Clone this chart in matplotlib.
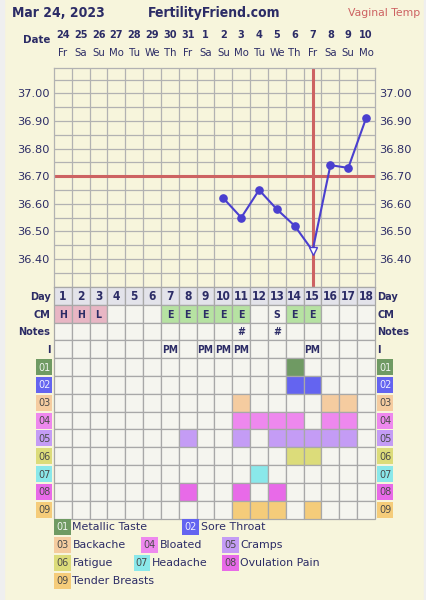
import matplotlib
matplotlib.use('Agg')
import numpy as np
import matplotlib.pyplot as plt
import matplotlib.transforms as mtransforms
from matplotlib.patches import Rectangle

# ---------------- data ----------------
title_date = "Mar 24, 2023"
site_name = "FertilityFriend.com"
temp_type = "Vaginal Temp"

dates = ['24', '25', '26', '27', '28', '29', '30', '31', '1', '2', '3', '4', '5', '6', '7', '8', '9', '10']
weekdays = ['Fr', 'Sa', 'Su', 'Mo', 'Tu', 'We', 'Th', 'Fr', 'Sa', 'Su', 'Mo', 'Tu', 'We', 'Th', 'Fr', 'Sa', 'Su', 'Mo']
cycle_days = list(range(1, 19))

temp_days = [10, 11, 12, 13, 14, 15, 16, 17, 18]
temps = [36.62, 36.55, 36.65, 36.58, 36.52, 36.43, 36.74, 36.73, 36.91]
open_marker_day = 15
coverline = 36.70
ovulation_day = 15
temp_ticks = [36.40, 36.50, 36.60, 36.70, 36.80, 36.90, 37.00]
temp_min, temp_max = 36.30, 37.093

cm_days = [1, 2, 3, 7, 8, 9, 10, 11, 13, 14, 15]
cm_codes = ['H', 'H', 'L', 'E', 'E', 'E', 'E', 'E', 'S', 'E', 'E']
notes_days = [11, 13]
notes_marks = ['#', '#']
intercourse_days = [7, 9, 10, 11, 15]
intercourse_marks = ['PM', 'PM', 'PM', 'PM', 'PM']

row_labels = ['Day', 'CM', 'Notes', 'I']
symptom_codes = ['01', '02', '03', '04', '05', '06', '07', '08', '09']
symptom_names = ['Metallic Taste', 'Sore Throat', 'Backache', 'Bloated', 'Cramps',
                 'Fatigue', 'Headache', 'Ovulation Pain', 'Tender Breasts']
symptom_days = [
    [14],
    [14, 15],
    [11, 16, 17],
    [11, 12, 13, 14, 16, 17],
    [8, 11, 13, 14, 15, 16, 17],
    [14, 15],
    [12],
    [8, 11, 13],
    [11, 12, 13, 15],
]

# ---------------- styles ----------------
symptom_colors = ['#6f9a63', '#6464f0', '#f5cca0', '#ee88ee', '#c49cf5',
                  '#dcdc7a', '#8ae8ea', '#e86ae8', '#f5cc7a']
symptom_text_colors = ['#eef4ee', '#eeeeff'] + ['#4a4a4a'] * 7
cm_colors = {'H': '#e8b6c4', 'L': '#e8b6c4', 'E': '#b6e2a2', 'S': '#f5f5ef'}
BG = '#f7f5dc'
NAVY = '#2c2c66'
RED = '#cd6262'
BLUE = '#4a3fcf'
CELL = '#f5f5ef'
DAYCELL = '#e3e3ea'
GRID = '#b2b2b2'
CELLLINE = '#a8a8a8'

W, H = 427, 600
bold = dict(family='DejaVu Sans', fontweight='bold', fontstretch='condensed', color=NAVY)
norm = dict(family='DejaVu Sans', color=NAVY)

fig = plt.figure(figsize=(W / 100, H / 100), dpi=100, facecolor=BG)


def fx(x):
    return x / W


def fy(y):
    return 1 - y / H


# side frame
fig.add_artist(Rectangle((0, 0), fx(4), 1, transform=fig.transFigure, color='#efefef', zorder=0))
fig.add_artist(Rectangle((fx(424), 0), fx(3), 1, transform=fig.transFigure, color='#efefef', zorder=0))

# header
fig.text(fx(12), fy(13), title_date, ha='left', va='center', fontsize=10, **bold)
fig.text(fx(214), fy(13), site_name, ha='center', va='center', fontsize=10, **bold)
fig.text(fx(420), fy(12.5), temp_type, ha='right', va='center', fontsize=7.8,
         family='DejaVu Sans', color=RED)

# ---------------- temperature chart ----------------
top_px, bot_px, left_px, right_px = 67.7, 286.6, 54, 375
ax_t = fig.add_axes([fx(left_px), fy(bot_px), (right_px - left_px) / W, (bot_px - top_px) / H])
ax_t.set_facecolor(BG)
ax_t.set_xlim(0.5, 18.5)
ax_t.set_ylim(temp_min, temp_max)
for x in np.arange(1.5, 18.5, 1.0):
    ax_t.axvline(x, color=GRID, lw=0.9, zorder=1)
for y in np.arange(temp_min + 0.05, temp_max, 0.05):
    ax_t.axhline(y, color=GRID, lw=0.9, zorder=1)
for s in ax_t.spines.values():
    s.set_color(GRID)
    s.set_linewidth(0.9)
ax_t.set_xticks([])
ax_t.set_yticks(temp_ticks, labels=[f'{t:.2f}' for t in temp_ticks])
ax_t.tick_params(axis='y', length=0, pad=3.2, labelsize=8.2, labelcolor=NAVY,
                 labelright=True, right=False)
for lab in ax_t.get_yticklabels() + ax_t.get_yticklabels(which='major'):
    lab.set_family('DejaVu Sans')

ax_t.axhline(coverline, color=RED, lw=2.2, zorder=2)
ax_t.axvline(ovulation_day, ymin=0.008, ymax=1, color=RED, lw=2.2, zorder=2)

ax_t.plot(temp_days, temps, color=BLUE, lw=1.5, zorder=3)
filled_d = [d for d in temp_days if d != open_marker_day]
filled_t = [t for d, t in zip(temp_days, temps) if d != open_marker_day]
ax_t.plot(filled_d, filled_t, ls='none', marker='o', ms=5.2, color=BLUE, zorder=4)
open_t = [t for d, t in zip(temp_days, temps) if d == open_marker_day]
ax_t.plot([open_marker_day], open_t, ls='none', marker='v', ms=5.5, mfc='white',
          mec=BLUE, mew=1.0, zorder=4)

# date header
tr = mtransforms.blended_transform_factory(ax_t.transData, fig.transFigure)
for d, ds, wd in zip(cycle_days, dates, weekdays):
    fig.text(d, fy(35), ds, transform=tr, ha='center', va='center', fontsize=7.8, **bold)
    fig.text(d, fy(52.5), wd, transform=tr, ha='center', va='center', fontsize=7.3, **norm)
fig.text(fx(50), fy(40), 'Date', ha='right', va='center', fontsize=8.2, **bold)

# ---------------- lower grid ----------------
g_top, g_bot = 287, 518.5
n_rows = 4 + len(symptom_codes)
ax_g = fig.add_axes([fx(left_px), fy(g_bot), (right_px - left_px) / W, (g_bot - g_top) / H])
ax_g.set_xlim(0.5, 18.5)
ax_g.set_ylim(n_rows, 0)
ax_g.axis('off')

fill = {}
for d in cycle_days:
    fill[(0, d)] = DAYCELL
for d, c in zip(cm_days, cm_codes):
    fill[(1, d)] = cm_colors[c]
for i, days in enumerate(symptom_days):
    for d in days:
        fill[(4 + i, d)] = symptom_colors[i]

for r in range(n_rows):
    for d in cycle_days:
        ax_g.add_patch(Rectangle((d - 0.5, r), 1, 1, facecolor=fill.get((r, d), CELL),
                                 edgecolor=CELLLINE, lw=0.9, clip_on=False))

for d in cycle_days:
    ax_g.text(d, 0.55, str(d), ha='center', va='center', fontsize=8.6, **bold)
for d, c in zip(cm_days, cm_codes):
    ax_g.text(d, 1.55, c, ha='center', va='center', fontsize=7.6, **bold)
for d, c in zip(notes_days, notes_marks):
    ax_g.text(d, 2.55, c, ha='center', va='center', fontsize=7.6, **bold)
for d, c in zip(intercourse_days, intercourse_marks):
    ax_g.text(d, 3.55, c, ha='center', va='center', fontsize=7.4, **bold)

lx = 0.5 + (50.5 - left_px) / 17.83
rx = 0.5 + (377 - left_px) / 17.83
for r, lab in enumerate(row_labels):
    ax_g.text(lx, r + 0.55, lab, ha='right', va='center', fontsize=7.8, clip_on=False, **bold)
    ax_g.text(rx, r + 0.55, lab, ha='left', va='center', fontsize=7.8, clip_on=False, **bold)

for i, code in enumerate(symptom_codes):
    r = 4 + i
    for x0 in (0.5 + (36 - left_px) / 17.83, 0.5 + (377 - left_px) / 17.83):
        ax_g.add_patch(Rectangle((x0, r + 0.05), 0.92, 0.9, facecolor=symptom_colors[i],
                                 edgecolor='none', clip_on=False))
        ax_g.text(x0 + 0.46, r + 0.53, code, ha='center', va='center', fontsize=7,
                  family='DejaVu Sans', color=symptom_text_colors[i], clip_on=False)

# ---------------- legend ----------------
legend_layout = [(54, 527.3), (182.3, 527.3),
                 (54, 545), (141, 545), (222, 545),
                 (54, 563.3), (133.7, 563.3), (222, 563.3),
                 (54, 580.7)]
for i, (x, y) in enumerate(legend_layout):
    fig.add_artist(Rectangle((fx(x), fy(y + 8)), 16.7 / W, 16 / H, transform=fig.transFigure,
                             facecolor=symptom_colors[i], edgecolor='none'))
    fig.text(fx(x + 8.3), fy(y), symptom_codes[i], ha='center', va='center', fontsize=7,
             family='DejaVu Sans', color=symptom_text_colors[i])
    fig.text(fx(x + 18.5), fy(y), symptom_names[i], ha='left', va='center', fontsize=7.9, **norm)

fig.savefig('out.png', dpi=100, facecolor=BG)
